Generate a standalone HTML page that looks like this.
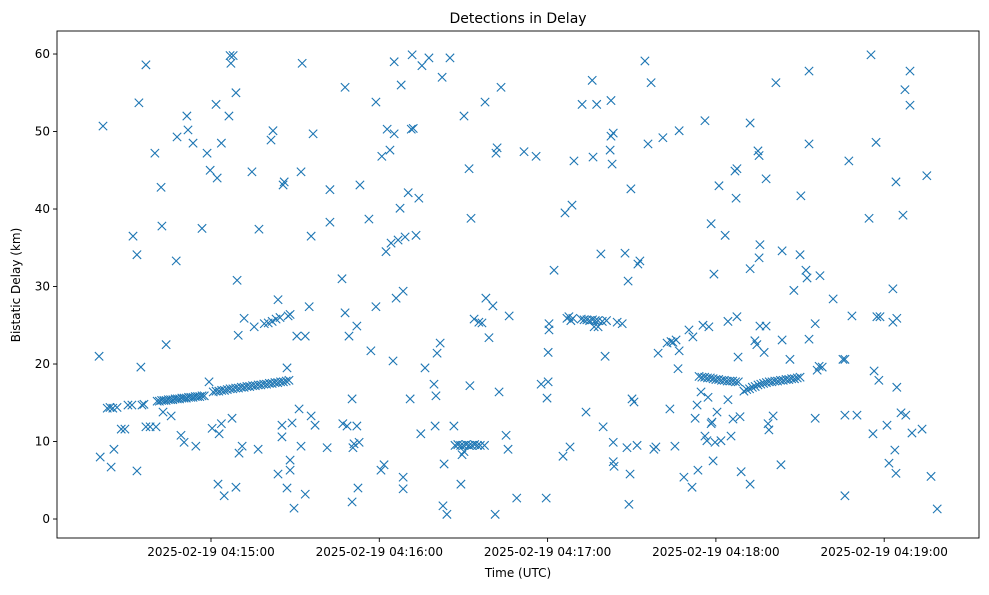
<!DOCTYPE html>
<html><head><meta charset="utf-8"><style>
body{margin:0;background:#fff;font-family:"Liberation Sans","DejaVu Sans",sans-serif;}
svg text{font-family:"DejaVu Sans","Liberation Sans",sans-serif;}
</style></head><body>
<svg id="chart" width="989" height="590" xmlns="http://www.w3.org/2000/svg"></svg>
<script>
// seconds since 04:14:00 UTC
const times = [20.1,20.5,21.5,23,24,25,26.5,24.4,25.4,28,29.3,30.4,31.8,32.2,33.6,33.6,34.3,35,35.4,36.1,36.8,36.8,38.3,40,40.4,42.2,42.5,42.9,44,45.8,47.6,47.9,49.3,50.4,51.4,51.8,53.6,54.6,56.8,58.6,59.3,59.7,60.4,61.8,62.2,62.5,62.9,63.7,63.7,64.7,66.4,66.8,67.9,67.1,67.5,68.9,68.9,69.3,69.7,70,71.1,71.8,74.6,75.4,76.8,77.1,79,80.4,81.8,83.2,84.6,81.4,82.1,83.9,83.9,85.3,85.3,85.7,86.1,87.1,88.2,88.2,87.1,87.5,88.2,88.9,89.6,90.6,91.4,92.1,92.5,92.1,93.6,93.6,95,95.7,95.7,96.4,97.1,101.4,102.4,102.4,106.7,107,107.8,107.8,108.5,109.2,110.3,110.3,110.6,111,112,112,112.4,112.8,113.1,116.3,117,118.8,118.8,120.6,120.9,121.7,122.4,122.8,123.8,124.2,124.9,125.3,125.3,126,126.7,127.4,127.8,128.5,128.5,128.5,129.2,130.3,131,131.4,132.1,131.7,133.1,134.1,134.8,135.2,136.3,137.7,139.5,139.9,140.2,140.6,141.7,142.4,142.7,143.1,144.1,145.2,146.6,149.1,149.5,150.2,150.2,152,152.3,152.7,153.8,155.5,156.6,157.7,158,159.1,160.5,161.3,161.6,162,162.7,163.4,165.2,165.9,166.3,169,171.6,175.9,177.7,179.5,180.2,180.2,179.8,180.5,180.5,182.3,185.5,186.2,186.9,187.6,189,188.3,188,188.7,189.4,192.3,193.7,195.9,196.2,196.6,198,197.5,199,199.8,200.5,202.3,202.6,202.6,203,203.4,203.4,203.7,203.4,204.8,206.6,207.6,208.3,208.7,209,209.4,209.7,210.1,210.8,211.9,212.2,212.9,214.7,215.8,216.9,217.9,218.6,219.4,221.1,222.6,224,223.6,224.7,225.8,225.4,226.5,226.9,226.9,228.6,230.4,231.5,231.8,232.6,233.3,233.6,234.7,235.4,236.1,236.1,236.8,237.2,237.5,238.3,238.6,239,238.3,239.3,239.7,240.4,241.1,241.8,243.3,244.3,244.3,245.4,246.1,246.8,247.5,247.2,247.5,247.9,248.6,249,252.2,252.2,252.2,253.9,254.6,255,255.4,255.4,255.7,255.7,257.2,257.9,257.9,258.6,258.9,260.4,261.4,263.2,263.6,263.6,266.4,267.8,270,270.3,272.1,272.5,273.2,273.2,273.2,275.4,275.4,276.1,276.8,277.1,277.9,281.8,285.3,286,286,286,287.4,288.5,290.3,294.6,295.3,296,296.4,297.1,297.4,298.5,298.1,301,301.7,303.1,303.1,303.8,304.2,304.2,304.5,304.5,306,306.7,307.4,307.7,309.2,309.2,309.9,313.5,315.2,316.7,318.9];
const delays = [21.0,8.0,50.7,14.3,14.4,14.3,14.4,6.7,9.0,11.6,11.6,14.7,14.7,36.5,34.1,6.2,53.7,19.6,14.7,14.8,58.6,11.9,11.9,47.2,11.9,42.8,37.8,13.8,22.5,13.3,33.3,49.3,10.8,9.9,52.0,50.2,48.5,9.4,37.5,47.2,17.7,45.0,11.7,53.5,44.0,4.5,11.0,12.3,48.5,3.0,52.0,59.8,59.8,58.8,13.0,55.0,4.1,30.8,23.7,8.5,9.4,25.9,44.8,24.8,9.0,37.4,25.2,25.3,25.5,25.8,26.0,48.9,50.1,28.3,5.8,10.6,12.1,43.1,43.5,4.0,7.6,6.3,19.5,26.2,26.4,12.4,1.4,23.6,14.2,44.8,58.8,9.4,23.6,3.2,27.4,36.5,13.3,49.7,12.1,9.2,42.5,38.3,31.0,12.3,55.7,26.6,12.0,23.6,15.5,2.2,9.2,9.7,12.0,24.9,4.0,9.9,43.1,38.7,21.7,27.4,53.8,6.3,46.8,7.0,34.5,50.3,47.6,35.6,20.4,49.7,59.0,28.5,36.0,40.1,56.0,3.9,5.4,29.4,36.4,42.1,15.5,50.3,50.4,59.9,36.6,41.4,11.0,58.5,19.5,59.5,17.4,12.0,15.9,21.4,22.7,57.0,1.7,7.1,0.6,59.5,12.0,4.5,8.3,8.7,52.0,45.2,17.2,38.8,25.8,25.4,25.3,53.8,28.5,23.4,27.5,0.6,47.2,47.9,16.4,55.7,10.8,9.0,26.2,2.7,47.4,46.8,17.4,2.7,17.7,21.5,15.6,25.2,24.4,32.1,8.1,39.5,25.9,26.1,25.9,25.6,9.3,40.5,46.2,53.5,13.8,56.6,46.7,24.8,24.8,53.5,34.2,11.9,21.0,47.6,54.0,49.4,45.8,9.9,7.4,6.8,49.8,25.4,25.2,34.3,9.2,30.7,1.9,5.8,42.6,15.5,15.1,9.5,32.9,33.3,59.1,48.4,56.3,9.0,9.3,21.4,49.2,22.7,22.9,14.2,22.8,23.1,9.4,19.4,21.7,50.1,5.4,24.4,4.1,23.5,13.0,14.7,6.3,16.4,25.0,51.4,10.7,10.1,15.7,24.8,12.3,12.5,7.5,38.1,31.6,9.9,13.8,43.0,10.1,36.6,15.4,25.5,10.7,12.9,44.9,45.2,41.4,26.1,20.9,13.2,6.1,4.5,51.1,32.3,23.0,22.5,47.5,46.9,33.7,35.4,24.9,21.5,43.9,24.9,12.3,11.5,13.3,56.3,7.0,34.6,23.1,20.6,29.5,34.1,41.7,32.1,31.1,57.8,23.2,48.4,13.0,25.2,19.2,19.7,31.4,19.6,28.4,20.6,20.6,3.0,13.4,46.2,26.2,13.4,38.8,59.9,11.0,19.1,48.6,26.1,26.1,17.9,12.1,7.2,29.7,25.4,8.9,5.9,43.5,25.9,17.0,13.7,39.2,55.4,13.4,57.8,53.4,11.1,11.6,44.3,5.5,1.3];
// dense track segments
const trackTimes = [40.8,41.6,42.4,43.2,44,44.8,45.6,46.4,47.2,48,48.8,49.6,50.4,51.2,52,52.8,53.6,54.4,55.2,56,56.8,57.6,60.8,61.8,62.8,63.8,64.8,65.8,66.8,67.8,68.8,69.8,70.8,71.8,72.8,73.8,74.8,75.8,76.8,77.8,78.8,79.8,80.8,81.8,82.8,83.8,84.8,85.8,86.8,87.8,147,148,149,150,151,152,153,154,155,156,157.5,192,193,194,195,196,197,198,199.5,201,234,235,236,237,238,239,240,241,242,243,244,245,246,247,248,250,251,252,253,254,255,256,257,258,259,260,261,262,263,264,265,266,267,268,269,270];
const trackDelays = [15.2,15.2,15.3,15.3,15.3,15.4,15.4,15.4,15.5,15.5,15.5,15.6,15.6,15.6,15.7,15.7,15.7,15.8,15.8,15.8,15.9,15.9,16.4,16.5,16.5,16.6,16.6,16.7,16.8,16.8,16.9,16.9,17.0,17.0,17.1,17.1,17.2,17.2,17.3,17.3,17.4,17.4,17.5,17.5,17.6,17.6,17.7,17.7,17.8,17.9,9.5,9.6,9.5,9.5,9.6,9.5,9.5,9.6,9.5,9.5,9.5,25.8,25.7,25.7,25.6,25.7,25.6,25.6,25.5,25.6,18.4,18.3,18.3,18.2,18.2,18.1,18.0,18.0,17.9,17.9,17.8,17.8,17.8,17.7,17.7,16.5,16.7,16.8,17.0,17.1,17.3,17.4,17.5,17.6,17.7,17.7,17.8,17.8,17.9,17.9,18.0,18.0,18.1,18.1,18.2,18.3,18.4];
const yTicks = [0,10,20,30,40,50,60];
const xTicks = [60,120,180,240,300];
const xTickLabels = ["2025-02-19 04:15:00","2025-02-19 04:16:00","2025-02-19 04:17:00","2025-02-19 04:18:00","2025-02-19 04:19:00"];

const L=57,R=979,T=31,B=538;
const xMin=5.1,xMax=333.8,yMin=-2.45,yMax=62.97;
const xs=s=>L+(s-xMin)/(xMax-xMin)*(R-L);
const ys=v=>B-(v-yMin)/(yMax-yMin)*(B-T);
const NS="http://www.w3.org/2000/svg";
const svg=document.getElementById('chart');
function mk(tag,attrs,parent){const e=document.createElementNS(NS,tag);for(const k in attrs)e.setAttribute(k,attrs[k]);(parent||svg).appendChild(e);return e;}

const title=mk('text',{x:518,y:23,'text-anchor':'middle','font-size':14,fill:'#000'});


title.textContent='Detections in Delay';

const marks=mk('g',{stroke:'#1f77b4','stroke-width':1.1,fill:'none'});


function drawX(s,v){const cx=xs(s),cy=ys(v),r=4.2;
  const p=mk('path',{d:`M${cx-r},${cy-r}L${cx+r},${cy+r}M${cx-r},${cy+r}L${cx+r},${cy-r}`},marks);
  
  }
times.forEach((s,i)=>drawX(s,delays[i]));
trackTimes.forEach((s,i)=>drawX(s,trackDelays[i]));

const frame=mk('rect',{x:L,y:T,width:R-L,height:B-T,fill:'none',stroke:'#000','stroke-width':0.9});



const yax=mk('g',{});


yTicks.forEach(v=>{const y=ys(v);
  mk('line',{x1:L-4,x2:L,y1:y,y2:y,stroke:'#000','stroke-width':0.9},yax);
  const t=mk('text',{x:L-7,y:y+4,'text-anchor':'end','font-size':12},yax);
  
  
  t.textContent=v;});
const xax=mk('g',{});


xTicks.forEach((s,i)=>{const x=xs(s);
  mk('line',{x1:x,x2:x,y1:B,y2:B+4,stroke:'#000','stroke-width':0.9},xax);
  const t=mk('text',{x:x,y:B+18,'text-anchor':'middle','font-size':12},xax);
  
  
  t.textContent=xTickLabels[i];});
const xt=mk('text',{x:518,y:577,'text-anchor':'middle','font-size':12});


xt.textContent='Time (UTC)';
const yt=mk('text',{x:20,y:285,'text-anchor':'middle','font-size':12,transform:'rotate(-90 20 285)'});


yt.textContent='Bistatic Delay (km)';
</script>
</body></html>
